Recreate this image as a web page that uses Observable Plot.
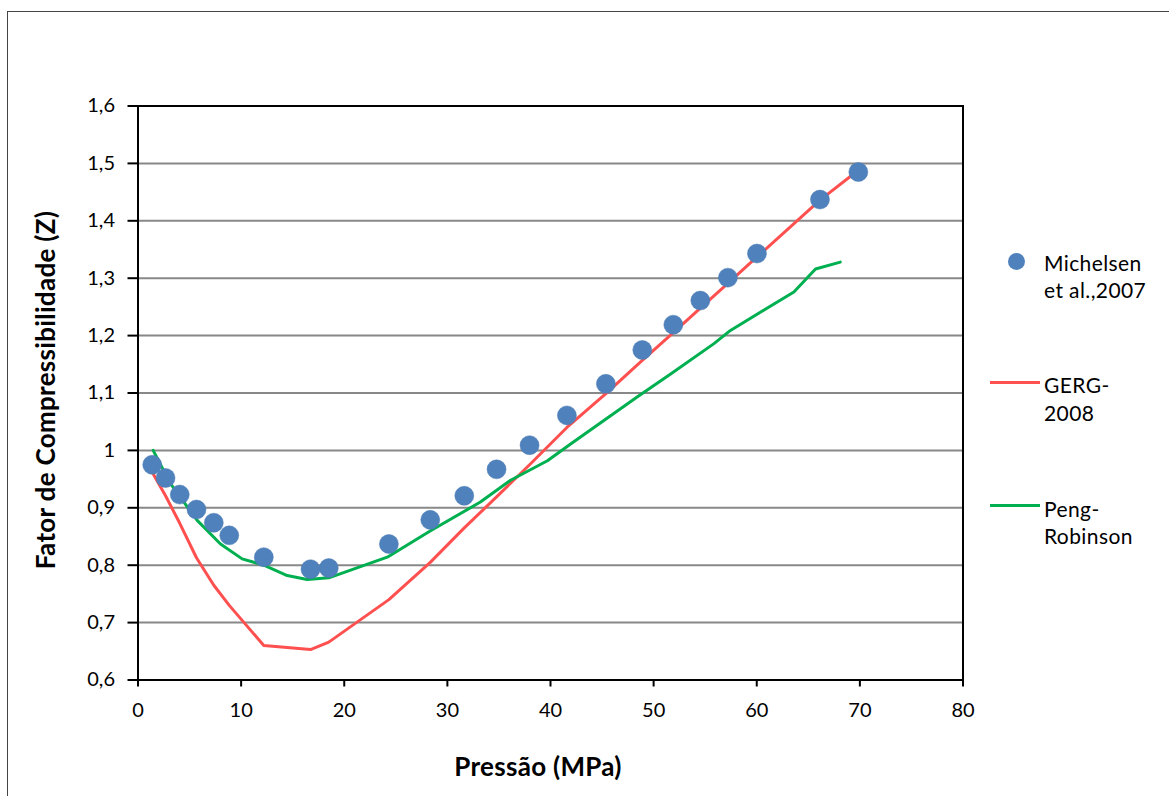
<!DOCTYPE html>
<html>
<head>
<meta charset="utf-8">
<script src="https://cdn.jsdelivr.net/npm/d3@7"></script>
<script src="https://cdn.jsdelivr.net/npm/@observablehq/plot@0.6"></script>
<style>
  html, body { margin: 0; padding: 0; background: #fff; overflow: hidden; }
  #chart { position: relative; width: 1169px; height: 796px; font-family: Lato, "Open Sans", sans-serif; color: #000; }
  #chart svg { position: absolute; left: 0; top: 0; }
  #outer { position: absolute; left: 7px; top: 11px; width: 1200px; height: 820px; border: 1.5px solid #444; }
  .title { position: absolute; font-weight: bold; font-size: 26px; letter-spacing: 0.3px; white-space: nowrap; line-height: 1; }
  #xtitle { left: 538px; top: 766px; transform: translate(-50%, -50%); }
  #ytitle { left: 45px; top: 390px; transform: translate(-50%, -50%) rotate(-90deg); }
  .lg-text { position: absolute; left: 1044px; font-size: 21px; letter-spacing: 0.4px; line-height: 27.5px; white-space: nowrap; }
  .lg-line { position: absolute; left: 990px; width: 50px; height: 3px; }
  .lg-dot { position: absolute; width: 17px; height: 17px; border-radius: 50%; background: #4f81bd; }
</style>
</head>
<body>
<div id="chart">
  <div id="outer"></div>
</div>
<script>
// Michelsen et al. (2007) measurements: pressure (MPa) and compressibility factor Z
const michelsenP = [1.38, 2.67, 4.05, 5.67, 7.35, 8.85, 12.2, 16.73, 18.5, 24.33, 28.34, 31.64, 34.77, 37.97, 41.59, 45.37, 48.9, 51.91, 54.53, 57.2, 60.02, 66.13, 69.85];
const michelsenZ = [0.975, 0.952, 0.923, 0.897, 0.874, 0.852, 0.814, 0.793, 0.795, 0.837, 0.879, 0.921, 0.967, 1.009, 1.061, 1.116, 1.175, 1.219, 1.261, 1.301, 1.343, 1.437, 1.485];

// GERG-2008 equation of state
const gergP = [1.38, 2.67, 4.05, 5.67, 7.35, 8.85, 12.2, 16.73, 18.5, 24.33, 28.34, 31.64, 34.77, 37.97, 41.59, 45.37, 48.9, 51.91, 54.53, 57.2, 60.02, 66.13, 69.85];
const gergZ = [0.962, 0.921, 0.873, 0.813, 0.765, 0.730, 0.660, 0.653, 0.666, 0.740, 0.805, 0.865, 0.919, 0.975, 1.040, 1.099, 1.157, 1.205, 1.248, 1.291, 1.337, 1.436, 1.488];

// Peng-Robinson equation of state
const prP = [1.47, 3.15, 5.74, 8.0, 10.1, 12.2, 14.47, 16.4, 18.5, 24.17, 28.37, 33.2, 36.13, 39.7, 41.95, 48.4, 51.65, 55.85, 57.45, 63.6, 65.7, 68.1];
const prZ = [1.000, 0.942, 0.878, 0.837, 0.811, 0.800, 0.782, 0.775, 0.778, 0.814, 0.860, 0.910, 0.948, 0.982, 1.011, 1.093, 1.133, 1.186, 1.209, 1.276, 1.316, 1.328];

// Axis ticks and their labels
const xTicks = [0, 10, 20, 30, 40, 50, 60, 70, 80];
const yTicks = [0.6, 0.7, 0.8, 0.9, 1.0, 1.1, 1.2, 1.3, 1.4, 1.5, 1.6];
const yTickLabels = ["0,6", "0,7", "0,8", "0,9", "1", "1,1", "1,2", "1,3", "1,4", "1,5", "1,6"];
const gridValues = yTicks.slice(1, -1);

const seriesNames = ["Michelsen\net al.,2007", "GERG-\n2008", "Peng-\nRobinson"];
const colors = { dots: "#4f81bd", gerg: "#ff5050", pr: "#00b050" };

const michelsen = michelsenP.map((p, i) => ({ p, z: michelsenZ[i] }));
const gerg = gergP.map((p, i) => ({ p, z: gergZ[i] }));
const pr = prP.map((p, i) => ({ p, z: prZ[i] }));

const chart = Plot.plot({
  width: 1169,
  height: 796,
  marginLeft: 137.5,
  marginRight: 206.5,
  marginTop: 105.5,
  marginBottom: 116.5,
  style: { fontFamily: "Lato, 'Open Sans', sans-serif", color: "#000", background: "transparent", overflow: "visible" },
  x: { domain: [0, 80] },
  y: { domain: [0.6, 1.6] },
  marks: [
    Plot.gridY(gridValues, { stroke: "#888", strokeOpacity: 1, strokeWidth: 2 }),
    Plot.axisX({ ticks: xTicks, tickSize: 7, tickPadding: 16, fontSize: 20, strokeWidth: 2, label: null }),
    Plot.axisY({ ticks: yTicks, tickSize: 10, tickPadding: 13, fontSize: 20, strokeWidth: 2, label: null,
      tickFormat: (d) => yTickLabels[yTicks.findIndex((t) => Math.abs(t - d) < 1e-9)] }),
    Plot.line(gerg, { x: "p", y: "z", stroke: colors.gerg, strokeWidth: 3 }),
    Plot.line(pr, { x: "p", y: "z", stroke: colors.pr, strokeWidth: 3 }),
    Plot.dot(michelsen, { x: "p", y: "z", r: 9.5, fill: colors.dots, stroke: "#4a7ab3", strokeWidth: 0.5 }),
    Plot.frame({ stroke: "#000", strokeWidth: 2 })
  ]
});

const root = document.getElementById("chart");
root.appendChild(chart);

// Axis titles
const xTitle = document.createElement("div");
xTitle.className = "title"; xTitle.id = "xtitle"; xTitle.textContent = "Pressão (MPa)";
root.appendChild(xTitle);
const yTitle = document.createElement("div");
yTitle.className = "title"; yTitle.id = "ytitle"; yTitle.textContent = "Fator de Compressibilidade (Z)";
root.appendChild(yTitle);

// Legend on the right side
const legendItems = [
  { name: seriesNames[0], kind: "dot", color: colors.dots, cy: 261.5, top: 248.5 },
  { name: seriesNames[1], kind: "line", color: colors.gerg, cy: 382.7, top: 371 },
  { name: seriesNames[2], kind: "line", color: colors.pr, cy: 505.3, top: 494.5 }
];
for (const item of legendItems) {
  const sym = document.createElement("div");
  if (item.kind === "dot") {
    sym.className = "lg-dot";
    sym.style.left = (1016 - 8.5) + "px";
    sym.style.top = (item.cy - 8.5) + "px";
  } else {
    sym.className = "lg-line";
    sym.style.top = (item.cy - 1.5) + "px";
    sym.style.background = item.color;
  }
  root.appendChild(sym);
  const txt = document.createElement("div");
  txt.className = "lg-text";
  txt.style.top = item.top + "px";
  txt.innerHTML = item.name.split("\n").join("<br>");
  root.appendChild(txt);
}
</script>
</body>
</html>
